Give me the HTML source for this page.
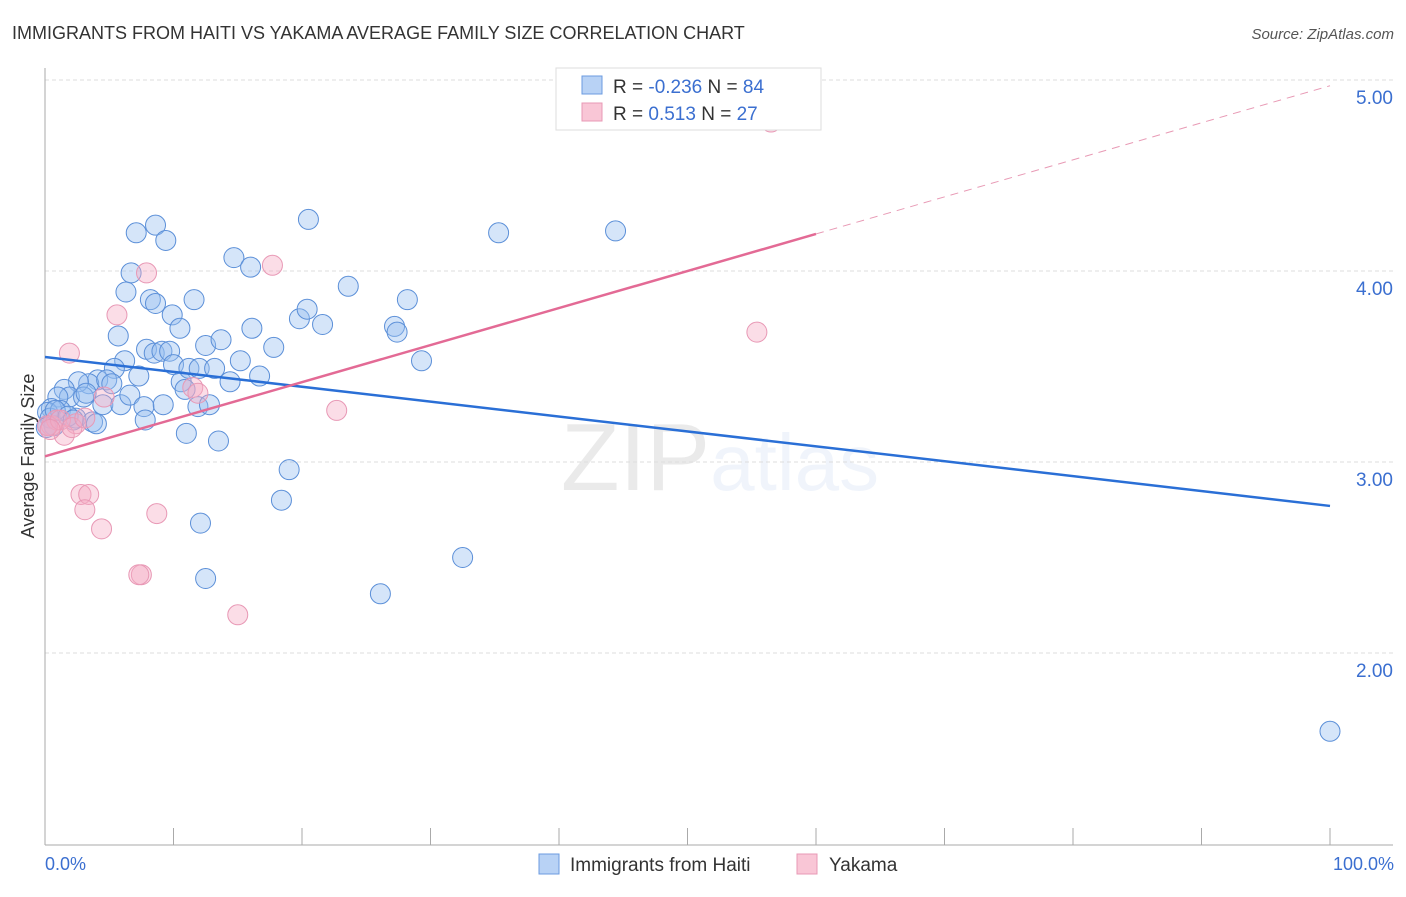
<!DOCTYPE html>
<html><head><meta charset="utf-8"><style>
body{margin:0;background:#fff;font-family:"Liberation Sans",sans-serif;}
svg text{font-family:"Liberation Sans",sans-serif;}
</style></head><body>
<svg id="chart" width="1406" height="892" xmlns="http://www.w3.org/2000/svg">
<text x="12" y="39" font-size="18" fill="#333">IMMIGRANTS FROM HAITI VS YAKAMA AVERAGE FAMILY SIZE CORRELATION CHART</text>
<text x="1394" y="39" font-size="15" fill="#555" text-anchor="end" font-style="italic">Source: ZipAtlas.com</text>
<text x="720" y="490" font-size="96" text-anchor="middle" fill="#000" opacity="0.08" font-family="Liberation Serif">ZIP<tspan fill="#4a7fd0" opacity="1" font-family="Liberation Sans" font-size="80">atlas</tspan></text>
<g id="grid"></g>
<g id="axes"></g>
<g id="marks"></g>
<g id="trends"></g>
<text transform="translate(34,456) rotate(-90)" font-size="18" fill="#333" text-anchor="middle">Average Family Size</text>
<text x="45" y="870" font-size="18" fill="#3b6fd0">0.0%</text>
<text x="1394" y="870" font-size="18" fill="#3b6fd0" text-anchor="end">100.0%</text>
<g>
<rect x="556" y="68" width="265" height="62" fill="#fff" stroke="#ddd"/>
<rect x="582" y="76" width="20" height="18" fill="#b8d2f5" stroke="#6b9be0"/>
<rect x="582" y="103" width="20" height="18" fill="#f9c6d6" stroke="#e898b5"/>
<text x="613" y="93" font-size="19" fill="#333">R = <tspan fill="#3b6fd0">-0.236</tspan>   N = <tspan fill="#3b6fd0">84</tspan></text>
<text x="613" y="120" font-size="19" fill="#333">R =   <tspan fill="#3b6fd0">0.513</tspan>   N = <tspan fill="#3b6fd0">27</tspan></text>
</g>
<g>
<rect x="539" y="854" width="20" height="20" fill="#b8d2f5" stroke="#6b9be0"/>
<text x="570" y="871" font-size="19" fill="#333">Immigrants from Haiti</text>
<rect x="797" y="854" width="20" height="20" fill="#f9c6d6" stroke="#e898b5"/>
<text x="829" y="871" font-size="19" fill="#333">Yakama</text>
</g>
</svg>
<script>
const haitiX=[7.1,8.6,9.4,6.7,6.3,8.2,8.6,9.9,11.6,5.7,10.5,7.9,8.5,9.1,9.7,6.2,10.0,12.5,13.7,14.7,16.0,16.1,15.2,17.8,19.8,20.4,21.6,23.6,20.5,28.2,27.2,27.4,29.3,35.3,44.4,7.3,5.4,4.1,3.4,2.6,1.5,1.9,1.0,0.5,0.2,0.4,0.7,1.2,2.4,3.0,3.7,4.0,4.5,4.8,5.2,5.9,6.6,7.7,7.8,9.2,10.6,10.9,11.9,11.2,12.0,13.2,12.8,14.4,16.7,11.0,13.5,19.0,18.4,12.1,12.5,26.1,32.5,100,0.2,0.1,0.8,1.8,2.2,3.2];
const haitiY=[4.20,4.24,4.16,3.99,3.89,3.85,3.83,3.77,3.85,3.66,3.70,3.59,3.57,3.58,3.58,3.53,3.51,3.61,3.64,4.07,4.02,3.70,3.53,3.60,3.75,3.80,3.72,3.92,4.27,3.85,3.71,3.68,3.53,4.20,4.21,3.45,3.49,3.43,3.41,3.42,3.38,3.34,3.34,3.28,3.26,3.23,3.19,3.27,3.23,3.34,3.21,3.20,3.30,3.43,3.41,3.30,3.35,3.29,3.22,3.30,3.42,3.38,3.29,3.49,3.49,3.49,3.30,3.42,3.45,3.15,3.11,2.96,2.80,2.68,2.39,2.31,2.50,1.59,3.19,3.18,3.27,3.24,3.22,3.36];
const yakamaX=[7.9,17.7,5.6,1.9,56.5,55.4,22.7,11.5,11.9,4.6,2.8,3.4,3.1,4.4,8.7,7.5,7.3,15.0,2.4,1.5,0.5,0.9,0.2,1.2,2.1,3.1,0.4];
const yakamaY=[3.99,4.03,3.77,3.57,4.78,3.68,3.27,3.39,3.36,3.34,2.83,2.83,2.75,2.65,2.73,2.41,2.41,2.20,3.20,3.14,3.19,3.22,3.19,3.22,3.18,3.23,3.17];
const yTicks=[5,4,3,2];
const yTickLabels=["5.00","4.00","3.00","2.00"];
const xTicks=[0,10,20,30,40,50,60,70,80,90,100];
const haitiTrend=[3.55,2.77];
const yakamaTrend=[3.03,4.97];
const yakamaSolidEnd=60;

const NS="http://www.w3.org/2000/svg";
function sx(v){return 45+v*12.85;}
function sy(v){return 80+(5-v)*191;}
function mk(tag,attrs,parent){const e=document.createElementNS(NS,tag);for(const k in attrs)e.setAttribute(k,attrs[k]);parent.appendChild(e);return e;}
const grid=document.getElementById('grid'),axes=document.getElementById('axes'),marks=document.getElementById('marks'),trends=document.getElementById('trends');
yTicks.forEach((t,i)=>{
  const l=mk('line',{x1:45,x2:1393,y1:sy(t),y2:sy(t),stroke:'#ddd','stroke-dasharray':'4,3'},grid);
  
  
  const tx=mk('text',{x:1393,y:sy(t)+24,'font-size':19,fill:'#3b6fd0','text-anchor':'end'},grid);
  tx.textContent=yTickLabels[i];
  
  
});
const ya=mk('line',{x1:45,x2:45,y1:68,y2:845,stroke:'#aaa'},axes);


const xa=mk('line',{x1:45,x2:1393,y1:845,y2:845,stroke:'#aaa'},axes);


xTicks.forEach(t=>{
  const l=mk('line',{x1:sx(t),x2:sx(t),y1:828,y2:845,stroke:'#aaa'},axes);
  
  
});
haitiX.forEach((x,i)=>{
  const c=mk('circle',{cx:sx(x),cy:sy(haitiY[i]),r:10,fill:'rgba(150,190,240,0.4)',stroke:'#5b8fd8','stroke-width':1},marks);
  
  
});
yakamaX.forEach((x,i)=>{
  const c=mk('circle',{cx:sx(x),cy:sy(yakamaY[i]),r:10,fill:'rgba(245,170,195,0.4)',stroke:'#e898b5','stroke-width':1},marks);
  
  
});
const bt=mk('line',{x1:sx(0),y1:sy(haitiTrend[0]),x2:sx(100),y2:sy(haitiTrend[1]),stroke:'#2a6fd6','stroke-width':2.5},trends);


const slope=(yakamaTrend[1]-yakamaTrend[0])/100;
const ymid=yakamaTrend[0]+slope*yakamaSolidEnd;
const pt=mk('line',{x1:sx(0),y1:sy(yakamaTrend[0]),x2:sx(yakamaSolidEnd),y2:sy(ymid),stroke:'#e36a95','stroke-width':2.5},trends);


const pd=mk('line',{x1:sx(yakamaSolidEnd),y1:sy(ymid),x2:sx(100),y2:sy(yakamaTrend[1]),stroke:'#e89ab5','stroke-width':1,'stroke-dasharray':'8,6'},trends);


</script>
</body></html>
